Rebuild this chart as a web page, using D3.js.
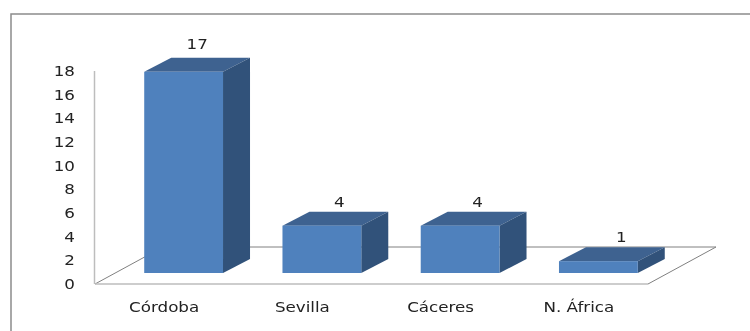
<!DOCTYPE html>
<html><head><meta charset="utf-8">
<style>html,body{margin:0;padding:0;background:#fff}svg{display:block;filter:blur(0.35px)}
text{font-family:"DejaVu Sans",sans-serif;fill:#222}</style>
<script src="https://cdn.jsdelivr.net/npm/d3@7"></script></head>
<body><script>
const categories = ["Córdoba","Sevilla","Cáceres","N. África"];
const values = [17,4,4,1];
const yTicks = [0,2,4,6,8,10,12,14,16,18];

const W=750,H=331;
const svg=d3.select("body").append("svg").attr("width",W).attr("height",H);
const x=d3.scaleBand().domain(categories).range([95,648]).paddingInner(0.43).paddingOuter(0.215);
const y=d3.scaleLinear().domain([0,18]).range([284,71]);
const depth={dx:27,dy:-14}, floorD={dx:68,dy:-37}, shiftX=19.5, shiftY=-11;
const stretch=1.24, fs=13.5;
const labelNudgeX=[13.5,17.5,17.5,23], labelNudgeY=[-9,-5,-5,-5];

// outer frame: extends past the canvas right and bottom
svg.append("rect").attr("x",11).attr("y",14).attr("width",760).attr("height",340)
  .attr("fill","#fff").attr("stroke","#8c8c8c").attr("stroke-width",1.5);

// floor
const y0=y(0);
svg.append("path").attr("fill","none").attr("stroke","#808080").attr("stroke-width",1)
  .attr("d",`M95,${y0}L${95+floorD.dx},${y0+floorD.dy}L${648+floorD.dx},${y0+floorD.dy}L648,${y0}`);
svg.append("line").attr("x1",95).attr("x2",648).attr("y1",y0).attr("y2",y0).attr("stroke","#bdbdbd").attr("stroke-width",1.5);
svg.append("line").attr("x1",94.5).attr("x2",94.5).attr("y1",y(18)).attr("y2",y0).attr("stroke","#bdbdbd").attr("stroke-width",1.5);

// ticks
svg.selectAll(".yt").data(yTicks).join("text").attr("class","yt")
  .attr("transform",d=>`translate(75,${y(d)}) scale(${stretch},1)`)
  .attr("dy","0.36em").attr("text-anchor","end")
  .attr("font-size",fs).text(d=>d);

// bars
const base=y0+shiftY;
const g=svg.selectAll(".bar").data(categories.map((c,i)=>({c,v:values[i],i}))).join("g").attr("class","bar");
const px=d=>x(d.c)+shiftX, bw=x.bandwidth(), barTop=d=>base-(y0-y(d.v));
g.append("path").attr("fill","#3e6290").attr("d",d=>`M${px(d)},${barTop(d)}l${depth.dx},${depth.dy}h${bw}l${-depth.dx},${-depth.dy}z`);
g.append("path").attr("fill","#31527a").attr("d",d=>`M${px(d)+bw},${barTop(d)}l${depth.dx},${depth.dy}V${base+depth.dy}l${-depth.dx},${-depth.dy}z`);
g.append("rect").attr("fill","#4f81bd").attr("x",px).attr("y",barTop).attr("width",bw).attr("height",d=>base-barTop(d));
g.append("text")
  .attr("transform",d=>`translate(${px(d)+bw/2+labelNudgeX[d.i]},${barTop(d)+depth.dy+labelNudgeY[d.i]}) scale(${stretch},1)`)
  .attr("text-anchor","middle").attr("font-size",fs).text(d=>d.v);

// category labels
svg.selectAll(".xt").data(categories).join("text").attr("class","xt")
  .attr("transform",d=>`translate(${x(d)+bw/2},312) scale(${stretch},1)`)
  .attr("text-anchor","middle").attr("font-size",fs).text(d=>d);
</script></body></html>
